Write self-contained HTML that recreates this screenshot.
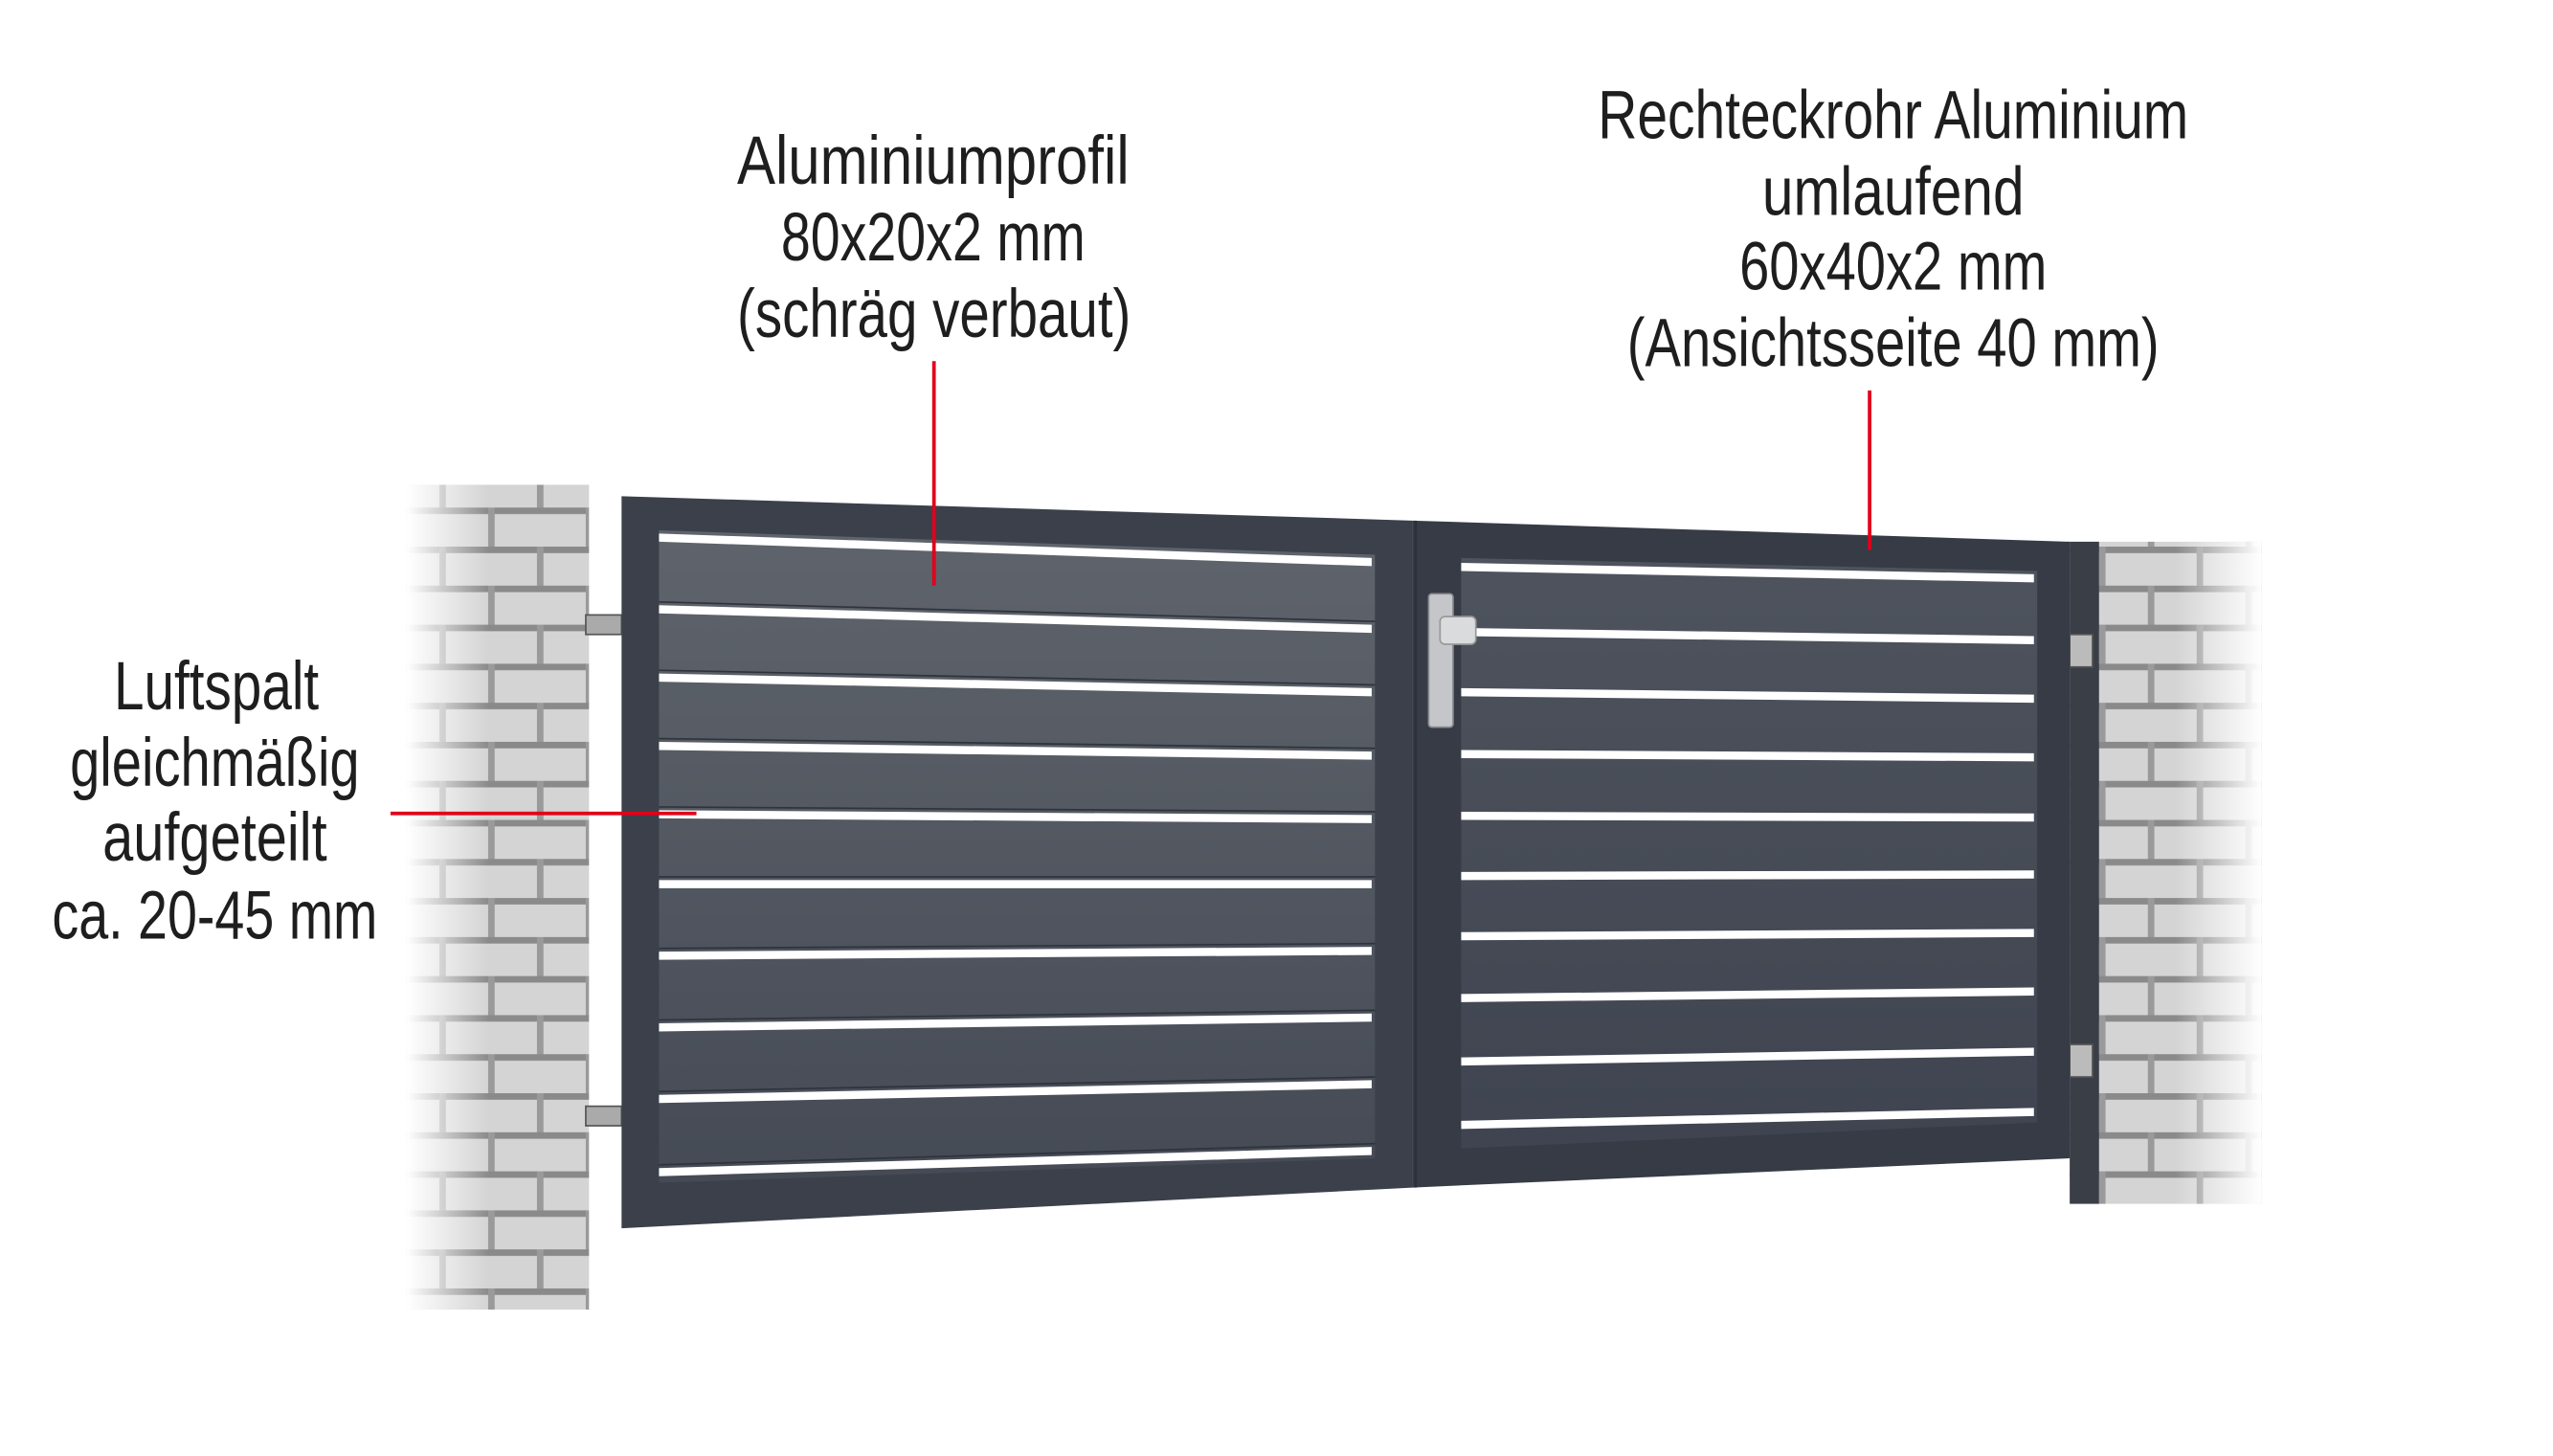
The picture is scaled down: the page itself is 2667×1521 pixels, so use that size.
<!DOCTYPE html>
<html><head><meta charset="utf-8"><style>
html,body{margin:0;padding:0;background:#fff;}
svg{display:block}
text{font-family:"Liberation Sans Narrow","Liberation Sans",sans-serif;fill:#1e1e1e;font-size:42px;}
</style></head><body>
<svg width="2667" height="1521" viewBox="0 0 1569 895" preserveAspectRatio="none" xmlns="http://www.w3.org/2000/svg">
<defs>
<linearGradient id="fadeL" x1="0" x2="1"><stop offset="0" stop-color="#fff" stop-opacity="1"/><stop offset="0.45" stop-color="#fff" stop-opacity="0"/></linearGradient>
<linearGradient id="fadeR" x1="0" x2="1"><stop offset="0.55" stop-color="#fff" stop-opacity="0"/><stop offset="1" stop-color="#fff" stop-opacity="1"/></linearGradient>
<linearGradient id="slatL" x1="0" y1="0" x2="0" y2="1"><stop offset="0" stop-color="#5f646c"/><stop offset="1" stop-color="#454a55"/></linearGradient>
<linearGradient id="slatR" x1="0" y1="0" x2="0" y2="1"><stop offset="0" stop-color="#4e535d"/><stop offset="1" stop-color="#3f4450"/></linearGradient>
<pattern id="brick" width="60" height="48" patternUnits="userSpaceOnUse">
<rect width="60" height="48" fill="#d4d4d4"/>
<rect x="0" y="0" width="60" height="4" fill="#8a8a8a"/>
<rect x="0" y="24" width="60" height="4" fill="#8a8a8a"/>
<rect x="30" y="0" width="4" height="24" fill="#9a9a9a"/>
<rect x="0" y="24" width="4" height="24" fill="#9a9a9a"/>
</pattern>
</defs>
<rect x="250" y="298" width="112" height="507" fill="url(#brick)"/>
<rect x="250" y="298" width="112" height="507" fill="url(#fadeL)"/>
<rect x="1272" y="333" width="118" height="407" fill="url(#brick)"/>
<rect x="1272" y="333" width="18" height="407" fill="#3a3e47"/>
<rect x="1272" y="333" width="118" height="407" fill="url(#fadeR)"/>
<rect x="360" y="378" width="22" height="12" fill="#aaa" stroke="#555" stroke-width="1"/>
<rect x="360" y="680" width="22" height="12" fill="#aaa" stroke="#555" stroke-width="1"/>
<rect x="1272" y="390" width="14" height="20" fill="#bbb" stroke="#555" stroke-width="1"/>
<rect x="1272" y="642" width="14" height="20" fill="#bbb" stroke="#555" stroke-width="1"/>
<polygon points="382,305 868,320 868,730 382,755" fill="#3b404b"/>
<polygon points="868,320 1272,333 1272,712 868,730" fill="#363b46"/>
<line x1="870" y1="320" x2="870" y2="730" stroke="#2c3039" stroke-width="1.5"/>
<polygon points="405,326 845,341 845,712 405,727" fill="url(#slatL)"/>
<polygon points="898,343 1252,351 1252,690 898,706" fill="url(#slatR)"/>
<g fill="#fff">
<polygon points="405,328 843,343 843,348 405,333"/>
<polygon points="405,372 843,384 843,389 405,377"/>
<polygon points="405,414 843,423 843,428 405,419"/>
<polygon points="405,456 843,462 843,467 405,461"/>
<polygon points="405,498 843,501 843,506 405,503"/>
<polygon points="405,541 843,541 843,546 405,546"/>
<polygon points="405,585 843,582 843,587 405,590"/>
<polygon points="405,629 843,623 843,628 405,634"/>
<polygon points="405,673 843,664 843,669 405,678"/>
<polygon points="405,718 843,705 843,710 405,723"/>
</g>
<g stroke="#2f333c" stroke-width="1" fill="none">
<line x1="405" y1="370" x2="845" y2="382"/><line x1="405" y1="412" x2="845" y2="421"/>
<line x1="405" y1="454" x2="845" y2="460"/><line x1="405" y1="496" x2="845" y2="499"/>
<line x1="405" y1="539" x2="845" y2="539"/><line x1="405" y1="583" x2="845" y2="580"/>
<line x1="405" y1="627" x2="845" y2="621"/><line x1="405" y1="671" x2="845" y2="662"/>
<line x1="405" y1="716" x2="845" y2="703"/>
</g>
<g fill="#fff">
<polygon points="898,346 1250,353 1250,358 898,351"/>
<polygon points="898,386 1250,391 1250,396 898,391"/>
<polygon points="898,423 1250,427 1250,432 898,428"/>
<polygon points="898,461 1250,463 1250,468 898,466"/>
<polygon points="898,499 1250,500 1250,505 898,504"/>
<polygon points="898,536 1250,535 1250,540 898,541"/>
<polygon points="898,573 1250,571 1250,576 898,578"/>
<polygon points="898,611 1250,607 1250,612 898,616"/>
<polygon points="898,650 1250,644 1250,649 898,655"/>
<polygon points="898,689 1250,681 1250,686 898,694"/>
</g>
<rect x="878" y="365" width="15" height="82" rx="2" fill="#c4c6c9" stroke="#8a8d92" stroke-width="1"/>
<rect x="885" y="379" width="22" height="17" rx="3" fill="#dadbdd" stroke="#999" stroke-width="1"/>
<g stroke="#e2001a" stroke-width="2.2">
<line x1="574" y1="222" x2="574" y2="360"/>
<line x1="1149" y1="240" x2="1149" y2="338"/>
<line x1="240" y1="500" x2="428" y2="500"/>
</g>
<text x="453" y="113" textLength="241" lengthAdjust="spacingAndGlyphs">Aluminiumprofil</text>
<text x="480" y="160" textLength="187" lengthAdjust="spacingAndGlyphs">80x20x2 mm</text>
<text x="453" y="207" textLength="242" lengthAdjust="spacingAndGlyphs">(schräg verbaut)</text>
<text x="982" y="85" textLength="363" lengthAdjust="spacingAndGlyphs">Rechteckrohr Aluminium</text>
<text x="1083" y="132" textLength="161" lengthAdjust="spacingAndGlyphs">umlaufend</text>
<text x="1069" y="178" textLength="189" lengthAdjust="spacingAndGlyphs">60x40x2 mm</text>
<text x="1000" y="225" textLength="327" lengthAdjust="spacingAndGlyphs">(Ansichtsseite 40 mm)</text>
<text x="70" y="436" textLength="126" lengthAdjust="spacingAndGlyphs">Luftspalt</text>
<text x="43" y="483" textLength="178" lengthAdjust="spacingAndGlyphs">gleichmäßig</text>
<text x="63" y="529" textLength="138" lengthAdjust="spacingAndGlyphs">aufgeteilt</text>
<text x="32" y="577" textLength="200" lengthAdjust="spacingAndGlyphs">ca. 20-45 mm</text>
</svg>
</body></html>
